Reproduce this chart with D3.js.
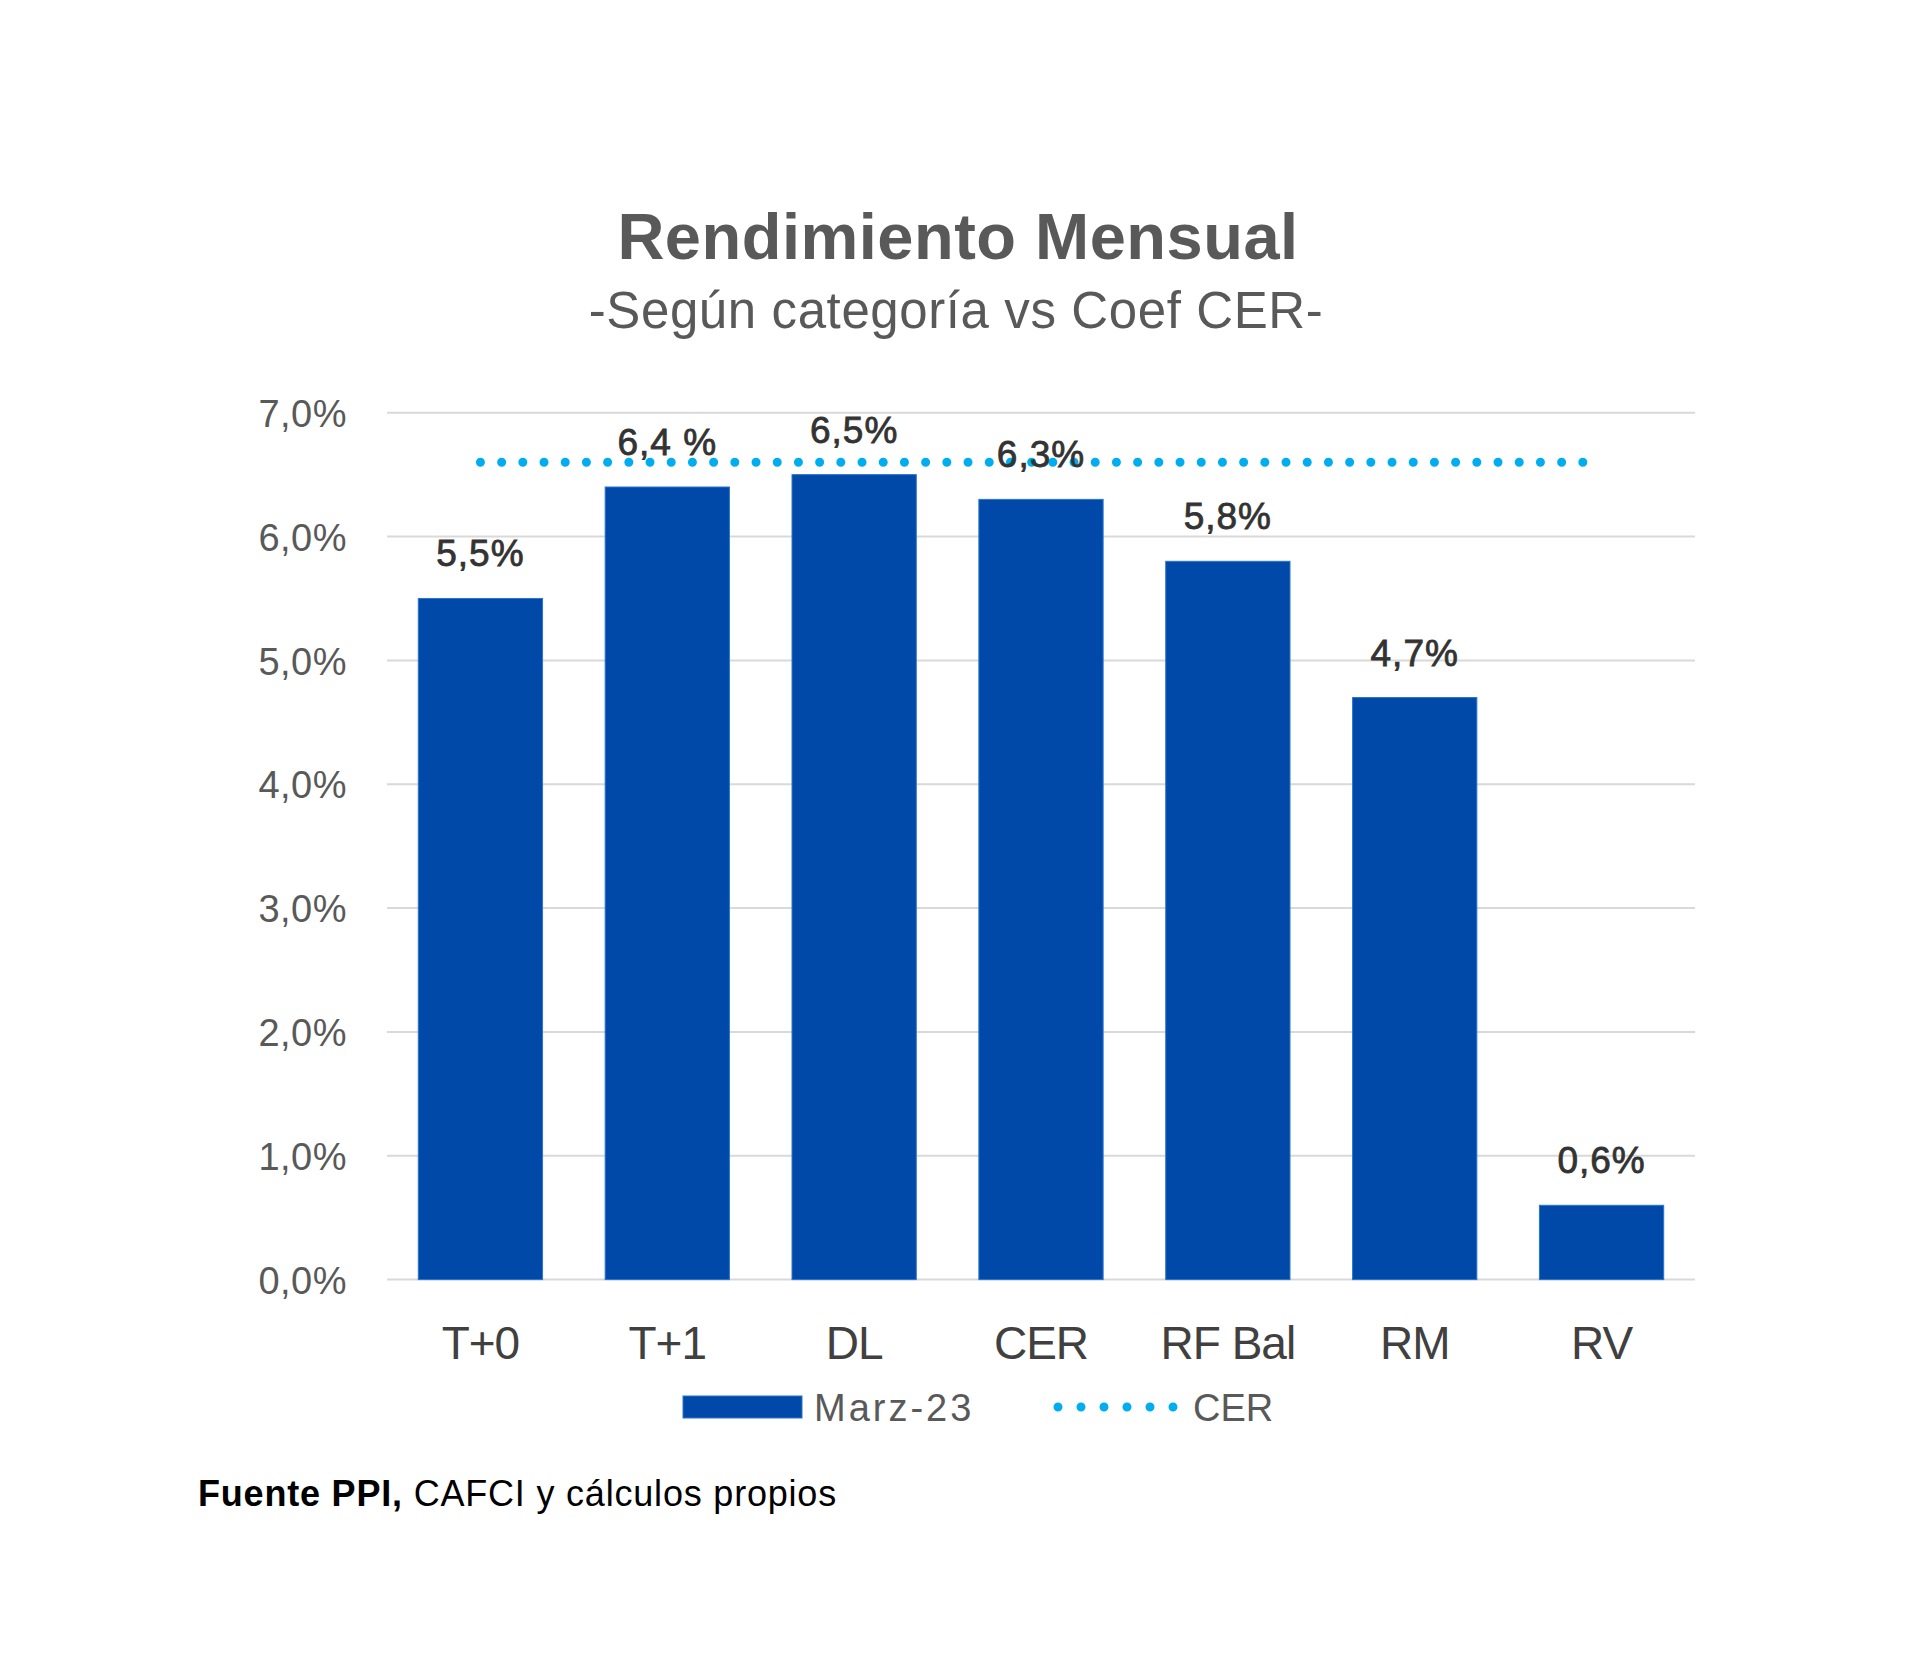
<!DOCTYPE html>
<html>
<head>
<meta charset="utf-8">
<script src="https://cdn.jsdelivr.net/npm/d3@7"></script>
<style>
  html, body { margin: 0; padding: 0; background: #ffffff; }
  svg { display: block; }
  text { font-family: "Liberation Sans", Arial, sans-serif; }
</style>
</head>
<body>
<script>
// ---- Data ----
const categories = ["T+0", "T+1", "DL", "CER", "RF Bal", "RM", "RV"];
const marzValues = [5.5, 6.4, 6.5, 6.3, 5.8, 4.7, 0.6];
const cerValues  = [6.6, 6.6, 6.6, 6.6, 6.6, 6.6, 6.6];
const valueLabels = ["5,5%", "6,4 %", "6,5%", "6,3%", "5,8%", "4,7%", "0,6%"];
const yTicks = [0, 1, 2, 3, 4, 5, 6, 7];
const yTickLabels = ["0,0%", "1,0%", "2,0%", "3,0%", "4,0%", "5,0%", "6,0%", "7,0%"];
const seriesNames = ["Marz-23", "CER"];
const titleText = "Rendimiento Mensual";
const subtitleText = "-Según categoría vs Coef CER-";
const sourceBold = "Fuente PPI,";
const sourceRest = " CAFCI y cálculos propios";

// ---- Layout ----
const W = 1920, H = 1674;
const barColor = "#0049a8";
const cerColor = "#00aeef";

const svg = d3.select("body").append("svg").attr("width", W).attr("height", H);
svg.append("rect").attr("width", W).attr("height", H).attr("fill", "#fff");

const x = d3.scaleBand().domain(categories).range([387, 1695])
  .paddingInner(0.335).paddingOuter(0.1675);
const y = d3.scaleLinear().domain([0, 7]).range([1279.6, 412.7]);

// Title
svg.append("text").attr("x", 958).attr("y", 259).attr("text-anchor", "middle")
  .attr("font-size", 65).attr("font-weight", "bold").attr("fill", "#595959")
  .attr("letter-spacing", 0.5).text(titleText);
svg.append("text").attr("x", 956).attr("y", 328).attr("text-anchor", "middle")
  .attr("font-size", 51).attr("fill", "#595959").attr("letter-spacing", 0.6).text(subtitleText);

// Gridlines
svg.append("g").selectAll("line").data(yTicks).join("line")
  .attr("x1", 387).attr("x2", 1695)
  .attr("y1", d => y(d)).attr("y2", d => y(d))
  .attr("stroke", "#d9d9d9").attr("stroke-width", 2);

// Y axis labels
const yAxis = d3.axisLeft(y).tickValues(yTicks)
  .tickFormat((d, i) => yTickLabels[i]).tickSize(0).tickPadding(0);
const gy = svg.append("g").attr("transform", "translate(347,0)").call(yAxis);
gy.select(".domain").remove();
gy.selectAll("text").attr("font-size", 38).attr("fill", "#595959")
  .attr("font-family", "Liberation Sans, Arial, sans-serif")
  .attr("dy", "0.36em").attr("letter-spacing", 0.5);

// Bars
svg.append("g").selectAll("rect").data(marzValues).join("rect")
  .attr("x", (d, i) => x(categories[i]))
  .attr("y", d => y(d))
  .attr("width", x.bandwidth())
  .attr("height", d => y(0) - y(d))
  .attr("fill", barColor)
  .attr("stroke", "#2a74d0").attr("stroke-width", 1);

// CER dotted line
const line = d3.line()
  .x((d, i) => x(categories[i]) + x.bandwidth() / 2)
  .y(d => y(d));
svg.append("path").datum(cerValues)
  .attr("d", line).attr("fill", "none")
  .attr("stroke", cerColor).attr("stroke-width", 9)
  .attr("stroke-linecap", "round").attr("stroke-dasharray", "0 21.2");

// Value labels
svg.append("g").selectAll("text").data(marzValues).join("text")
  .attr("x", (d, i) => x(categories[i]) + x.bandwidth() / 2)
  .attr("y", d => y(d) - 32)
  .attr("text-anchor", "middle")
  .attr("font-size", 37).attr("fill", "#333333")
  .attr("stroke", "#333333").attr("stroke-width", 0.8)
  .attr("letter-spacing", 1)
  .text((d, i) => valueLabels[i]);

// X axis labels
const xAxis = d3.axisBottom(x).tickSize(0).tickPadding(0);
const gx = svg.append("g").attr("transform", "translate(0,1359)").call(xAxis);
gx.select(".domain").remove();
gx.selectAll("text").attr("font-size", 46).attr("fill", "#404040")
  .attr("font-family", "Liberation Sans, Arial, sans-serif")
  .attr("dy", 0).attr("letter-spacing", -1);

// Legend
const leg = svg.append("g");
leg.append("rect").attr("x", 683).attr("y", 1396).attr("width", 119).attr("height", 22)
  .attr("fill", barColor).attr("stroke", "#2a74d0").attr("stroke-width", 1);
leg.append("text").attr("x", 814).attr("y", 1421).attr("font-size", 38)
  .attr("fill", "#595959").attr("letter-spacing", 3).text(seriesNames[0]);
leg.append("line").attr("x1", 1058).attr("x2", 1174).attr("y1", 1407).attr("y2", 1407)
  .attr("stroke", cerColor).attr("stroke-width", 9)
  .attr("stroke-linecap", "round").attr("stroke-dasharray", "0 23");
leg.append("text").attr("x", 1193).attr("y", 1421).attr("font-size", 38)
  .attr("fill", "#595959").text(seriesNames[1]);

// Source
const src = svg.append("text").attr("x", 198).attr("y", 1506).attr("font-size", 36)
  .attr("fill", "#000").attr("letter-spacing", 0.8);
src.append("tspan").attr("font-weight", "bold").text(sourceBold);
src.append("tspan").text(sourceRest);
</script>
</body>
</html>
